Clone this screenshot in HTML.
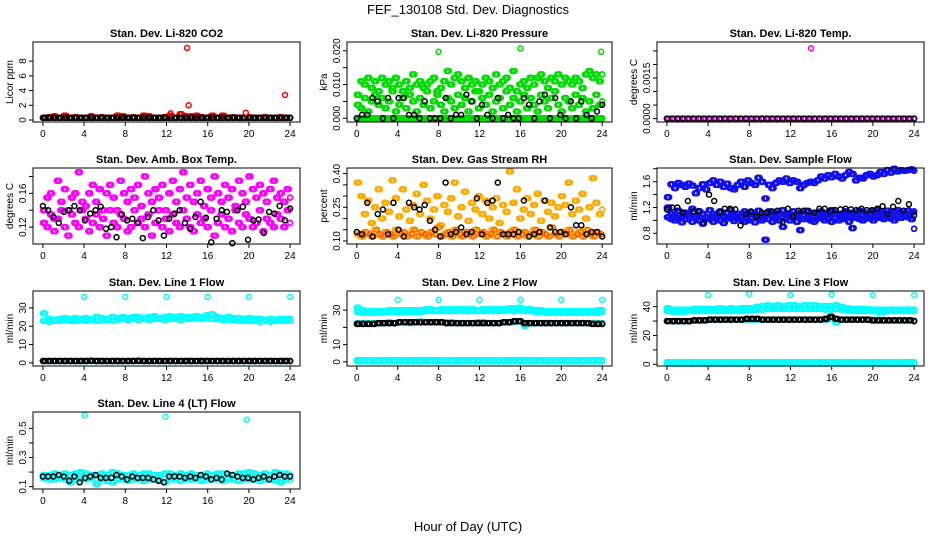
<!DOCTYPE html>
<html><head><meta charset="utf-8"><style>
body{margin:0;background:#fff}
svg{display:block;font-family:"Liberation Sans",sans-serif}
</style></head><body>
<svg id="c" width="936" height="540" viewBox="0 0 936 540">
<text x="468" y="14" text-anchor="middle" font-size="13">FEF_130108  Std. Dev. Diagnostics</text>
<text x="468" y="531" text-anchor="middle" font-size="13">Hour of Day (UTC)</text>
</svg>
<script>
// ---- data ----
const xTicks=[0,4,8,12,16,20,24];
const co2Red=[0.3,0.4,0.5,0.3,0.6,0.3,0.4,0.3,0.3,0.5,0.3,0.4,0.3,0.3,0.6,0.5,0.3,0.4,0.3,0.6,0.5,0.3,0.3,0.4,0.6,0.3,0.8,0.5,0.5,0.6,0.4,0.3,0.6,0.3,0.6,0.3,0.4,0.3,0.3,0.4,0.3,0.3,0.4,0.3,0.3,0.4,0.3,0.3];
const co2Black=[0.3,0.3,0.3,0.3,0.3,0.3,0.3,0.3,0.3,0.3,0.3,0.3,0.3,0.3,0.3,0.3,0.3,0.3,0.3,0.3,0.3,0.3,0.3,0.3,0.3,0.3,0.3,0.3,0.3,0.3,0.3,0.3,0.3,0.3,0.3,0.3,0.3,0.3,0.3,0.3,0.3,0.3,0.3,0.3,0.3,0.3,0.3,0.3];
const co2OutHrs=[12.4,14.0,14.15,19.7,23.5];
const co2OutVals=[0.9,9.8,2.0,1.0,3.4];

const presGreenA=[0.007,0.011,0.010,0.012,0.009,0.011,0.008,0.012,0.010,0.011,0.009,0.012,0.010,0.008,0.011,0.009,0.013,0.010,0.011,0.009,0.010,0.011,0.012,0.008,0.009,0.011,0.014,0.010,0.012,0.013,0.011,0.009,0.012,0.010,0.011,0.008,0.010,0.012,0.011,0.009,0.013,0.010,0.011,0.012,0.009,0.014,0.008,0.010,0.011,0.009,0.012,0.010,0.012,0.013,0.011,0.009,0.012,0.011,0.013,0.010,0.012,0.011,0.010,0.012,0.011,0.009,0.013,0.014,0.012,0.013,0.011,0.013];
const presGreenB=[0.004,0.003,0.006,0.002,0.005,0.007,0.004,0.006,0.003,0.005,0.008,0.002,0.004,0.006,0.003,0.007,0.005,0.002,0.006,0.004,0.008,0.003,0.005,0.007,0.004,0.002,0.006,0.005,0.003,0.007,0.004,0.006,0.002,0.005,0.008,0.003,0.006,0.004,0.007,0.002,0.005,0.006,0.003,0.008,0.004,0.006,0.002,0.005,0.007,0.003,0.006,0.004,0.002,0.007,0.005,0.003,0.006,0.008,0.004,0.002,0.006,0.005,0.003,0.007,0.004,0.006,0.002,0.005,0.003,0.007,0.004,0.005];
const presGreenZero=[0,0,0,0,0,0,0,0,0,0,0,0,0,0,0,0,0,0,0,0,0,0,0,0,0,0,0,0,0,0,0,0,0,0,0,0,0,0,0,0,0,0,0,0,0,0,0,0,0,0,0,0,0,0,0,0,0,0,0,0,0,0,0,0,0,0,0,0,0,0,0,0];
const presBlack=[0,0.001,0.001,0.006,0.005,0,0.006,0,0.006,0.006,0.001,0.001,0,0.005,0,0,0,0.006,0,0.001,0.001,0.007,0.005,0,0.004,0.001,0,0.006,0,0.001,0,0,0.006,0.004,0,0.005,0.007,0,0.006,0.001,0,0.005,0,0.005,0.001,0,0.002,0.004];
const presOutHrs=[8.0,16.0,23.9];
const presOutVals=[0.0197,0.0207,0.0197];

const tempMag=[0,0,0,0,0,0,0,0,0,0,0,0,0,0,0,0,0,0,0,0,0,0,0,0,0,0,0,0,0,0,0,0,0,0,0,0,0,0,0,0,0,0,0,0,0,0,0,0];
const tempBlack=[0,0,0,0,0,0,0,0,0,0,0,0,0,0,0,0,0,0,0,0,0,0,0,0,0,0,0,0,0,0,0,0,0,0,0,0,0,0,0,0,0,0,0,0,0,0,0,0];
const tempOutHrs=[14.0];
const tempOutVals=[0.0026];

const ambMagA=[0.14,0.155,0.16,0.13,0.175,0.15,0.165,0.14,0.155,0.16,0.185,0.15,0.145,0.16,0.17,0.15,0.165,0.14,0.16,0.17,0.155,0.14,0.175,0.16,0.15,0.165,0.155,0.17,0.145,0.18,0.16,0.15,0.165,0.155,0.17,0.14,0.16,0.175,0.15,0.165,0.185,0.155,0.17,0.15,0.16,0.175,0.145,0.165,0.155,0.18,0.16,0.15,0.17,0.155,0.165,0.145,0.175,0.16,0.15,0.18,0.165,0.155,0.17,0.16,0.15,0.165,0.175,0.155,0.16,0.15,0.165,0.155];
const ambMagB=[0.125,0.12,0.135,0.115,0.13,0.14,0.12,0.11,0.135,0.125,0.12,0.14,0.13,0.115,0.125,0.135,0.12,0.13,0.11,0.14,0.125,0.12,0.135,0.13,0.115,0.12,0.14,0.125,0.13,0.12,0.135,0.11,0.125,0.14,0.12,0.13,0.115,0.135,0.125,0.12,0.14,0.13,0.12,0.115,0.135,0.125,0.13,0.12,0.14,0.11,0.125,0.135,0.12,0.13,0.115,0.14,0.125,0.12,0.135,0.13,0.12,0.125,0.14,0.115,0.13,0.125,0.12,0.135,0.13,0.12,0.14,0.125];
const ambBlack=[0.145,0.14,0.132,0.125,0.138,0.14,0.145,0.14,0.128,0.136,0.14,0.144,0.118,0.12,0.108,0.135,0.128,0.13,0.125,0.107,0.132,0.14,0.128,0.11,0.13,0.136,0.14,0.125,0.118,0.132,0.15,0.131,0.102,0.13,0.14,0.138,0.101,0.14,0.144,0.105,0.128,0.129,0.113,0.138,0.136,0.145,0.128,0.142];

const rhDense=[0.13,0.12,0.14,0.13,0.12,0.15,0.13,0.12,0.14,0.13,0.12,0.15,0.13,0.14,0.12,0.13,0.15,0.12,0.14,0.13,0.12,0.14,0.13,0.16,0.12,0.13,0.14,0.12,0.15,0.13,0.12,0.14,0.13,0.12,0.15,0.13,0.14,0.12,0.13,0.15,0.12,0.14,0.13,0.12,0.14,0.15,0.12,0.13,0.14,0.12,0.13,0.15,0.12,0.14,0.13,0.12,0.16,0.13,0.12,0.14,0.13,0.15,0.12,0.13,0.14,0.12,0.15,0.13,0.12,0.14,0.13,0.12];
const rhScatter=[0.36,0.3,0.22,0.28,0.18,0.25,0.33,0.2,0.27,0.23,0.37,0.29,0.21,0.33,0.24,0.19,0.26,0.31,0.22,0.35,0.28,0.2,0.24,0.3,0.17,0.26,0.23,0.29,0.36,0.21,0.25,0.32,0.19,0.27,0.24,0.3,0.22,0.28,0.2,0.25,0.29,0.18,0.26,0.23,0.41,0.27,0.33,0.2,0.24,0.29,0.22,0.26,0.31,0.19,0.28,0.23,0.27,0.21,0.25,0.3,0.26,0.36,0.22,0.28,0.24,0.31,0.2,0.25,0.38,0.27,0.22,0.24];
const rhBlack=[0.14,0.13,0.27,0.12,0.22,0.24,0.13,0.27,0.15,0.12,0.27,0.25,0.24,0.26,0.19,0.15,0.12,0.36,0.13,0.14,0.16,0.13,0.14,0.29,0.13,0.27,0.28,0.36,0.13,0.13,0.13,0.14,0.28,0.12,0.13,0.14,0.28,0.16,0.14,0.14,0.13,0.25,0.17,0.17,0.13,0.14,0.14,0.12];

const flowUpper=[1.36,1.56,1.5,1.58,1.55,1.52,1.57,1.54,1.42,1.5,1.56,1.48,1.58,1.62,1.55,1.6,1.52,1.57,1.5,1.48,1.55,1.6,1.52,1.62,1.58,1.55,1.66,1.6,1.34,1.55,1.5,1.58,1.62,1.6,1.65,1.58,1.62,1.6,1.5,1.55,1.58,1.6,1.58,1.62,1.68,1.65,1.7,1.67,1.72,1.68,1.65,1.7,1.75,1.72,1.62,1.66,1.65,1.7,1.72,1.68,1.7,1.75,1.72,1.78,1.74,1.8,1.76,1.78,1.77,1.78,1.79,1.77];
const flowLowA=[1.2,1.1,1.08,1.15,1.05,1.12,1.1,1.18,1.06,1.14,1.1,1.04,1.16,1.1,1.08,1.14,1.05,1.12,1.16,1.08,1.1,1.06,1.14,1.1,1.12,1.08,1.15,1.04,1.1,1.14,1.06,1.12,1.1,1.16,1.08,1.1,1.14,1.06,1.12,1.08,1.15,1.1,1.06,1.12,1.14,1.08,1.1,1.16,1.12,1.08,1.1,1.14,1.06,1.12,1.1,1.15,1.08,1.12,1.1,1.14,1.16,1.1,1.12,1.15,1.08,1.14,1.16,1.12,1.1,1.15,1.12,1.14];
const flowLowB=[1.05,1.02,1.0,1.04,0.97,1.02,1.06,0.98,1.03,1.0,0.95,1.05,1.02,0.98,1.04,1.0,0.96,1.03,1.05,0.99,1.02,1.04,0.98,1.0,1.03,0.97,1.05,1.0,0.7,1.02,0.98,1.04,1.0,0.9,1.03,1.0,1.05,0.98,0.85,1.02,1.04,1.0,0.98,1.03,1.05,1.0,1.02,0.98,1.04,1.0,1.02,1.05,0.98,0.88,1.04,1.02,1.0,1.05,1.03,1.0,1.06,1.04,1.02,1.05,1.03,1.0,1.06,1.04,1.08,1.05,1.02,0.87];
const flowBlack=[1.17,1.2,1.2,1.12,1.3,1.14,1.14,0.96,1.4,1.3,1.12,1.18,1.18,1.17,0.92,1.1,1.14,1.06,1.12,1.12,1.14,1.15,0.98,1.18,1.06,1.15,1.15,1.14,1.12,1.18,1.18,1.14,1.16,1.17,1.18,1.17,1.16,1.18,1.16,1.16,1.18,1.22,1.1,1.21,1.3,1.15,1.25,1.08];

const l1CyanA=[27,24,23.5,24,24.5,24,24.5,24,24.5,24,25,24.5,24,25,24.5,25,24.5,25,25,24.5,25,25.5,24.5,25,25.5,25,25.5,25,25,25.5,25,26,26.5,25,24.5,25,24.5,24.5,24,24.5,24,24,23.5,24,23.5,24,24,24];
const l1CyanB=[23,22.5,23,23,23.5,23,23,23.5,23,23.5,23,23.5,23.5,23,23.5,24,23.5,24,23.5,24,23.5,24,24,23.5,24,24,23.5,24,24,24.5,24,24.5,24,24,23.5,23.5,23.5,23,23,23,23,22.5,23,22.5,23,23,23,23];
const l1Low=[1,1,1,1,1,1,1,1,1,1,1,1,1,1,1,1,1,1,1,1,1,1,1,1,1,1,1,1,1,1,1,1,1,1,1,1,1,1,1,1,1,1,1,1,1,1,1,1];
const l1Black=[1,1,1,1,1,1,1,1,1,1.2,1,1,1,1,1,1,1,1,1.2,1,1,1,1,1,1,1,1,1,1,1,1,1,1,1,1,1,1,1,1,1,1,1,1,1,1,1,1,1];
const l1OutHrs=[0.05,4,8,12,16,20,24];
const l1OutVals=[27,36,36,36,36,36,36];

const l2CyanA=[31.5,30,29.5,29.5,29.5,29.5,30,30,30,30,30,30,30,30.5,30.5,30,30.5,30.5,30.5,30.5,30.5,30.5,30.5,30,30.5,30.5,30.5,30.5,30.5,31,31,31.5,30.5,30.5,30,30,29.5,29.5,29.5,29.5,29.5,29.5,29.5,29.5,29.5,29.5,30,30];
const l2CyanB=[29,28.5,28.5,28.5,28.5,29,29,29,29,29,29,29,29,29.5,29.5,29.5,29.5,29.5,29.5,29.5,29.5,29.5,29.5,29.5,29.5,29.5,29.5,29.5,29.5,30,29.5,30,29.5,29.5,29,29,28.5,28.5,28.5,28.5,28.5,28.5,28.5,28.5,28.5,28.5,28.5,29];
const l2Mid=[22.5,22.5,22.5,22.5,22.5,22.5,23,22.5,23,23,22.5,23,23.5,23,23,23,23,23,23,22.5,22.5,22.5,22.5,23,23,22.5,22.5,22.5,23,23,23,23.5,21,22.5,22.5,22.5,22.5,22.5,22.5,22.5,22.5,22.5,22.5,22.5,22.5,22.5,22.5,22.5];
const l2Black=[22,22,22,22,22.5,22.5,22.5,22.5,23,23,23,23,23,23,23,23,23,22.5,22.5,22.5,22.5,22.5,22.5,22.5,22.5,22.5,22.5,22.5,23,23,23.5,23.5,22.5,22.5,22.5,22.5,22.5,22.5,22.5,22.5,22.5,22.5,22.5,22.5,22.5,22,22,22];
const l2Low=[1,1,1,1,1,1,1,1,1,1,1,1,1,1,1,1,1,1,1,1,1,1,1,1,1,1,1,1,1,1,1,1,1,1,1,1,1,1,1,1,1,1,1,1,1,1,1,1];
const l2Low2=[0.3,0.3,0.3,0.3,0.3,0.3,0.3,0.3,0.3,0.3,0.3,0.3,0.3,0.3,0.3,0.3,0.3,0.3,0.3,0.3,0.3,0.3,0.3,0.3,0.3,0.3,0.3,0.3,0.3,0.3,0.3,0.3,0.3,0.3,0.3,0.3,0.3,0.3,0.3,0.3,0.3,0.3,0.3,0.3,0.3,0.3,0.3,0.3];
const l2OutHrs=[0.05,4,8,12,16,20,24];
const l2OutVals=[31.5,36,36,36,36,36,36];

const l3CyanA=[39,38,38,38,38,38.5,38.5,38.5,38.5,38.5,39,38.5,39,38.5,39,39,39,40,40.5,41,40.5,41,40.5,41,41,40.5,41,41,41,40.5,40.5,40.5,41,40,39,38.5,38.5,38.5,38.5,38,38,38,38,38,38,38,38,38];
const l3CyanB=[37,36.5,36.5,36.5,37,37,37,37,37,37,37,37,37,37,37,37.5,37.5,38,38,38.5,38.5,38.5,38.5,38.5,38.5,38.5,38.5,38.5,38.5,38.5,38,38,38.5,38,37.5,37,37,37,37,37,36.5,36.5,37,37,37,37,37,37];
const l3Mid=[30,30,30,30,30,30.5,30.5,30.5,31,31,31,31,31,31,31,31,31,31,31,31,31,31,31,31,31,31,31,31,31,31,31,32,29,31,31,31,31,31,31,31,31,30.5,30.5,30.5,30.5,30.5,30.5,30.5];
const l3Black=[30,30,30,30,30,30.5,30.5,30.5,31,31,31,31,31,31,31,31.5,31.5,31.5,31,31,31,31,31,31,31,31,31,31,31,31,31.5,33,31.5,31,31,31,31,31,31,30.5,30.5,30.5,30.5,30.5,30.5,30.5,30.5,30];
const l3Low=[1.5,1.5,1.5,1.5,1.5,1.5,1.5,1.5,1.5,1.5,1.5,1.5,1.5,1.5,1.5,1.5,1.5,1.5,1.5,1.5,1.5,1.5,1.5,1.5,1.5,1.5,1.5,1.5,1.5,1.5,1.5,1.5,1.5,1.5,1.5,1.5,1.5,1.5,1.5,1.5,1.5,1.5,1.5,1.5,1.5,1.5,1.5,1.5];
const l3Low2=[0.5,0.5,0.5,0.5,0.5,0.5,0.5,0.5,0.5,0.5,0.5,0.5,0.5,0.5,0.5,0.5,0.5,0.5,0.5,0.5,0.5,0.5,0.5,0.5,0.5,0.5,0.5,0.5,0.5,0.5,0.5,0.5,0.5,0.5,0.5,0.5,0.5,0.5,0.5,0.5,0.5,0.5,0.5,0.5,0.5,0.5,0.5,0.5];
const l3OutHrs=[4,8,12,16,20,24];
const l3OutVals=[48,49,48,48.5,48,48];

const l4CyanA=[0.18,0.18,0.19,0.18,0.19,0.18,0.19,0.2,0.19,0.18,0.18,0.19,0.18,0.2,0.19,0.18,0.18,0.19,0.18,0.19,0.19,0.18,0.18,0.19,0.19,0.18,0.19,0.18,0.19,0.18,0.18,0.19,0.18,0.19,0.19,0.18,0.18,0.19,0.19,0.2,0.19,0.18,0.19,0.18,0.2,0.19,0.19,0.18];
const l4CyanB=[0.16,0.15,0.15,0.16,0.15,0.13,0.15,0.15,0.15,0.16,0.12,0.15,0.14,0.13,0.15,0.15,0.14,0.15,0.15,0.14,0.15,0.15,0.14,0.13,0.15,0.15,0.14,0.15,0.15,0.15,0.14,0.15,0.15,0.15,0.14,0.15,0.15,0.14,0.15,0.15,0.15,0.14,0.15,0.15,0.14,0.13,0.15,0.15];
const l4Black=[0.17,0.17,0.17,0.18,0.17,0.14,0.17,0.13,0.16,0.17,0.18,0.16,0.16,0.16,0.18,0.17,0.15,0.17,0.16,0.16,0.16,0.15,0.14,0.13,0.17,0.17,0.17,0.16,0.17,0.16,0.18,0.17,0.15,0.16,0.15,0.19,0.18,0.17,0.16,0.16,0.15,0.16,0.17,0.15,0.17,0.18,0.17,0.17];
const l4OutHrs=[4.05,11.9,19.8];
const l4OutVals=[0.59,0.58,0.56];

// ---- layout ----
const svg=document.getElementById('c');
const NS='http://www.w3.org/2000/svg';
const cols=[[33,300],[347,612],[657,924]];
const rows=[[42,122],[168,244],[291,366],[412,489]];
const DENSE=[0,0.11,0.22];
function mk(tag,attrs,parent){const e=document.createElementNS(NS,tag);for(const k in attrs)e.setAttribute(k,attrs[k]);(parent||svg).appendChild(e);return e;}

const panels=[
 {name:'co2',title:'Stan. Dev. Li-820 CO2',ylab:'Licor ppm',c:0,r:0,ymin:-0.27,ymax:10.6,ticks:[0,2,4,6,8],labels:['0','2','4','6','8'],
  series:[{v:co2Red,col:'#ff0000',d:1},{v:co2Black,col:'#000',d:1},{h:co2OutHrs,v:co2OutVals,col:'#ff0000'}]},
 {name:'pressure',title:'Stan. Dev. Li-820 Pressure',ylab:'kPa',c:1,r:0,ymin:-0.0011,ymax:0.0226,ticks:[0,0.005,0.01,0.015,0.02],labels:['0.000','','0.010','','0.020'],
  series:[{v:presGreenA,col:'#00dd00',d:1},{v:presGreenB,col:'#00dd00',d:1},{v:presGreenZero,col:'#00dd00',d:1},{v:presBlack,col:'#000'},{h:presOutHrs,v:presOutVals,col:'#00dd00'}]},
 {name:'temp',title:'Stan. Dev. Li-820 Temp.',ylab:'degrees C',c:2,r:0,ymin:-0.000125,ymax:0.00283,ticks:[0,0.0005,0.001,0.0015,0.002,0.0025],labels:['0.0000','','','0.0015','',''],
  series:[{v:tempMag,col:'#ff00ff',d:1},{v:tempBlack,col:'#000'},{h:tempOutHrs,v:tempOutVals,col:'#ff00ff'}]},
 {name:'amb-temp',title:'Stan. Dev. Amb. Box Temp.',ylab:'degrees C',c:0,r:1,ymin:0.1,ymax:0.19,ticks:[0.12,0.14,0.16,0.18],labels:['0.12','','0.16',''],
  series:[{v:ambMagA,col:'#ff00ff',d:1},{v:ambMagB,col:'#ff00ff',d:1},{v:ambBlack,col:'#000'}]},
 {name:'rh',title:'Stan. Dev. Gas Stream RH',ylab:'percent',c:1,r:1,ymin:0.0865,ymax:0.425,ticks:[0.1,0.15,0.2,0.25,0.3,0.35,0.4],labels:['0.10','','','0.25','','','0.40'],
  series:[{v:rhDense,col:'#ffaa00',d:1},{v:rhScatter,col:'#ffaa00',d:1},{v:rhDense,col:'#ff3300',w:0.8,off:0.3},{v:rhBlack,col:'#000'}]},
 {name:'sample-flow',title:'Stan. Dev. Sample Flow',ylab:'ml/min',c:2,r:1,ymin:0.634,ymax:1.812,ticks:[0.8,1.0,1.2,1.4,1.6,1.8],labels:['0.8','','1.2','','1.6',''],
  series:[{v:flowUpper,col:'#1010ee',d:1},{v:flowLowA,col:'#1010ee',d:1},{v:flowLowB,col:'#1010ee',d:1},{v:flowBlack,col:'#000'}]},
 {name:'line1-flow',title:'Stan. Dev. Line 1 Flow',ylab:'ml/min',c:0,r:2,ymin:-1.7,ymax:39.2,ticks:[0,10,20,30],labels:['0','10','20','30'],
  series:[{v:l1CyanA,col:'#00ffff',d:1},{v:l1CyanB,col:'#00ffff',d:1},{v:l1Low,col:'#00ffff',d:1},{v:l1Black,col:'#000',d:1},{h:l1OutHrs,v:l1OutVals,col:'#00ffff'}]},
 {name:'line2-flow',title:'Stan. Dev. Line 2 Flow',ylab:'ml/min',c:1,r:2,ymin:-2.4,ymax:41.1,ticks:[0,10,20,30],labels:['0','10','','30'],
  series:[{v:l2CyanA,col:'#00ffff',d:1},{v:l2CyanB,col:'#00ffff',d:1},{v:l2Mid,col:'#00ffff',d:1},{v:l2Black,col:'#000',d:1},{v:l2Low,col:'#00ffff',d:1},{v:l2Low2,col:'#00ffff',d:1},{h:l2OutHrs,v:l2OutVals,col:'#00ffff'}]},
 {name:'line3-flow',title:'Stan. Dev. Line 3 Flow',ylab:'ml/min',c:2,r:2,ymin:-1.2,ymax:50.9,ticks:[0,10,20,30,40],labels:['0','','20','','40'],
  series:[{v:l3CyanA,col:'#00ffff',d:1},{v:l3CyanB,col:'#00ffff',d:1},{v:l3Mid,col:'#00ffff',d:1},{v:l3Black,col:'#000',d:1},{v:l3Low,col:'#00ffff',d:1},{v:l3Low2,col:'#00ffff',d:1},{h:l3OutHrs,v:l3OutVals,col:'#00ffff'}]},
 {name:'line4-flow',title:'Stan. Dev. Line 4 (LT) Flow',ylab:'ml/min',c:0,r:3,ymin:0.084,ymax:0.612,ticks:[0.1,0.2,0.3,0.4,0.5],labels:['0.1','','0.3','','0.5'],
  series:[{v:l4CyanA,col:'#00ffff',d:1},{v:l4CyanB,col:'#00ffff',d:1},{v:l4Black,col:'#000'},{h:l4OutHrs,v:l4OutVals,col:'#00ffff'}]}
];

panels.forEach(p=>{
  const x0=cols[p.c][0],x1=cols[p.c][1],y0=rows[p.r][0],y1=rows[p.r][1];
  const sx=h=>x0+(h+0.96)/25.92*(x1-x0);
  const sy=v=>y1-(v-p.ymin)/(p.ymax-p.ymin)*(y1-y0);
  const g=mk('g',{});
  
  
  const t=mk('text',{x:(x0+x1)/2,y:y0-5,'text-anchor':'middle','font-size':'11','font-weight':'bold'},g);
  t.textContent=p.title;
  
  
  const pts=mk('g',{},g);
  
  
  p.series.forEach(s=>{
    const n=s.v.length;
    const offs=s.d?DENSE:[0];
    offs.forEach(o=>{
      s.v.forEach((v,i)=>{
        let h=s.h?s.h[i]:(i*24/(n-1)+(s.off||0)+o);
        if(h>24)h=24;
        const c=mk('circle',{cx:sx(h).toFixed(1),cy:sy(v).toFixed(1),r:2.5,fill:'none',stroke:s.col,'stroke-width':s.w||1.5},pts);
        
        
      });
    });
  });
  const box=mk('rect',{x:x0,y:y0,width:x1-x0,height:y1-y0,fill:'none',stroke:'#000','stroke-width':1},g);
  
  
  const xa=mk('g',{},g);
  
  
  mk('line',{x1:sx(0),x2:sx(24),y1:y1,y2:y1,stroke:'#000'},xa);
  xTicks.forEach(h=>{
    mk('line',{x1:sx(h),x2:sx(h),y1:y1,y2:y1+4,stroke:'#000'},xa);
    const l=mk('text',{x:sx(h),y:y1+15,'text-anchor':'middle','font-size':'10'},xa);
    l.textContent=h;
  });
  const ya=mk('g',{},g);
  
  
  mk('line',{x1:x0,x2:x0,y1:sy(p.ticks[0]),y2:sy(p.ticks[p.ticks.length-1]),stroke:'#000'},ya);
  p.ticks.forEach((v,i)=>{
    const y=sy(v);
    mk('line',{x1:x0-4,x2:x0,y1:y,y2:y,stroke:'#000'},ya);
    if(p.labels[i]){
      const l=mk('text',{x:0,y:0,'text-anchor':'middle','font-size':'10',transform:`translate(${x0-7},${y}) rotate(-90)`},ya);
      l.textContent=p.labels[i];
    }
  });
  const yl=mk('text',{x:0,y:0,'text-anchor':'middle','font-size':'10',transform:`translate(${x0-20},${(y0+y1)/2}) rotate(-90)`},g);
  yl.textContent=p.ylab;
  
  
});
</script>
</body></html>
